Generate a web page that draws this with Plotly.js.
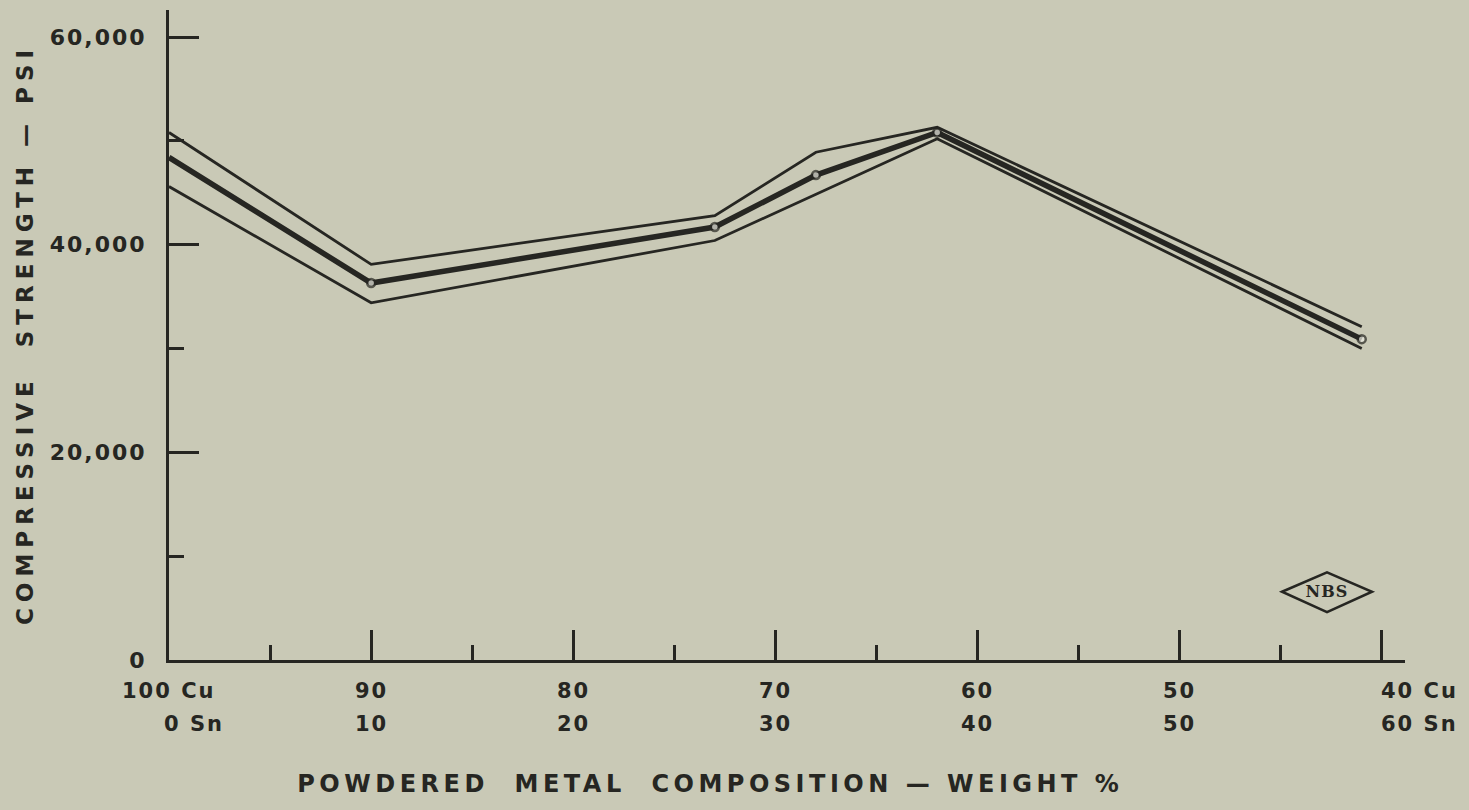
<!DOCTYPE html>
<html>
<head>
<meta charset="utf-8">
<script src="https://cdn.plot.ly/plotly-3.0.1.min.js"></script>
<style>
  html, body { margin: 0; padding: 0; background: #c9c9b6; }
  #chart { width: 1469px; height: 810px; }
  #chart .ytick text { letter-spacing: 2px; }
  #chart .annotation text { letter-spacing: 2px; }
  #chart .annotation[data-index="14"] text { letter-spacing: 4.5px; }
  #chart .annotation[data-index="15"] text { letter-spacing: 6px; }
  #chart .annotation[data-index="16"] text { letter-spacing: 1px; }
</style>
</head>
<body>
<div id="chart"></div>
<script>
// Sn content (weight %) along the x axis
const xUpper = [0, 10, 27, 32, 38, 59];
const yUpper = [50800, 38100, 42800, 48900, 51300, 32100];

const xMean = [0, 10, 27, 32, 38, 59];
const yMean = [48400, 36300, 41700, 46700, 50800, 30900];

const xLower = [0, 10, 27, 38, 59];
const yLower = [45600, 34400, 40400, 50200, 30000];

const xMajorTicks = [10, 20, 30, 40, 50, 60];
const xMinorTicks = [5, 15, 25, 35, 45, 55];
const xLabelPos = [0, 10, 20, 30, 40, 50, 60];
const cuLabels = ['100 Cu', '90', '80', '70', '60', '50', '40 Cu'];
const snLabels = ['0 Sn', '10', '20', '30', '40', '50', '60 Sn'];

const yTickVals = [0, 20000, 40000, 60000];
const yTickText = ['0', '20,000', '40,000', '60,000'];
const yMinorTicks = [10000, 30000, 50000];

const xTitle = 'POWDERED  METAL  COMPOSITION — WEIGHT %';
const yTitle = 'COMPRESSIVE  STRENGTH — PSI';

const ink = '#262622';
const bg = '#c9c9b6';
const fontFam = 'DejaVu Sans, sans-serif';

const traces = [
  { x: xUpper, y: yUpper, mode: 'lines', line: { color: ink, width: 2.8 }, hoverinfo: 'skip' },
  { x: xLower, y: yLower, mode: 'lines', line: { color: ink, width: 2.8 }, hoverinfo: 'skip' },
  { x: xMean, y: yMean, mode: 'lines+markers', line: { color: ink, width: 5.5 },
    marker: { size: [0, 8, 8, 8, 8, 8], color: '#ecece2', line: { color: ink, width: 2.5 } },
    hoverinfo: 'skip' }
];

const annotations = [];
xLabelPos.forEach((v, i) => {
  const last = i === xLabelPos.length - 1;
  const first = i === 0;
  annotations.push({
    x: v, xref: 'x', y: -0.047, yref: 'paper', text: cuLabels[i], showarrow: false,
    xanchor: last ? 'left' : 'center', yanchor: 'middle', xshift: last ? 2 : 0,
    font: { family: fontFam, size: 21, color: ink, weight: 'bold' }
  });
  annotations.push({
    x: v, xref: 'x', y: -0.098, yref: 'paper', text: snLabels[i], showarrow: false,
    xanchor: first ? 'left' : (last ? 'left' : 'center'), yanchor: 'middle',
    xshift: first ? -3 : (last ? 2 : 0),
    font: { family: fontFam, size: 21, color: ink, weight: 'bold' }
  });
});
annotations.push({
  x: 0.4385, xref: 'paper', y: -0.19, yref: 'paper', showarrow: false,
  text: xTitle, xanchor: 'center', yanchor: 'middle',
  font: { family: fontFam, size: 24, color: ink, weight: 'bold' }
});
annotations.push({
  x: -0.1165, xref: 'paper', y: 0.5, yref: 'paper', showarrow: false,
  text: yTitle, textangle: -90, xanchor: 'center', yanchor: 'middle',
  font: { family: fontFam, size: 23, color: ink, weight: 'bold' }
});
annotations.push({
  x: 0.9369, xref: 'paper', y: 0.105, yref: 'paper', showarrow: false,
  text: 'NBS', xanchor: 'center', yanchor: 'middle',
  font: { family: 'DejaVu Serif, serif', size: 16, color: ink, weight: 'bold' }
});

const layout = {
  width: 1469, height: 810,
  margin: { l: 169, r: 64, t: 10, b: 150 },
  paper_bgcolor: bg, plot_bgcolor: bg,
  showlegend: false,
  font: { family: fontFam, color: ink },
  xaxis: {
    range: [0, 61.14], showgrid: false, zeroline: false,
    showline: true, linecolor: ink, linewidth: 3,
    ticks: 'inside', tickmode: 'array', tickvals: xMajorTicks, ticklen: 30, tickwidth: 3, tickcolor: ink,
    showticklabels: false,
    minor: { tickmode: 'array', tickvals: xMinorTicks, ticks: 'inside', ticklen: 15, tickwidth: 3, tickcolor: ink, showgrid: false }
  },
  yaxis: {
    range: [0, 62600], showgrid: false, zeroline: false,
    showline: true, linecolor: ink, linewidth: 3,
    ticks: 'inside', tickmode: 'array', tickvals: yTickVals, ticktext: yTickText,
    ticklen: 30, tickwidth: 3, tickcolor: ink, ticklabelstandoff: 15,
    tickfont: { family: fontFam, size: 22, color: ink, weight: 'bold' },
    minor: { tickmode: 'array', tickvals: yMinorTicks, ticks: 'inside', ticklen: 15, tickwidth: 3, tickcolor: ink, showgrid: false }
  },
  shapes: [{
    type: 'path', xref: 'paper', yref: 'paper',
    path: 'M 0.9005 0.105 L 0.9369 0.1348 L 0.9733 0.105 L 0.9369 0.0737 Z',
    line: { color: ink, width: 2.5 }
  }],
  annotations: annotations
};

Plotly.newPlot('chart', traces, layout, { staticPlot: true, displayModeBar: false });
</script>
</body>
</html>
